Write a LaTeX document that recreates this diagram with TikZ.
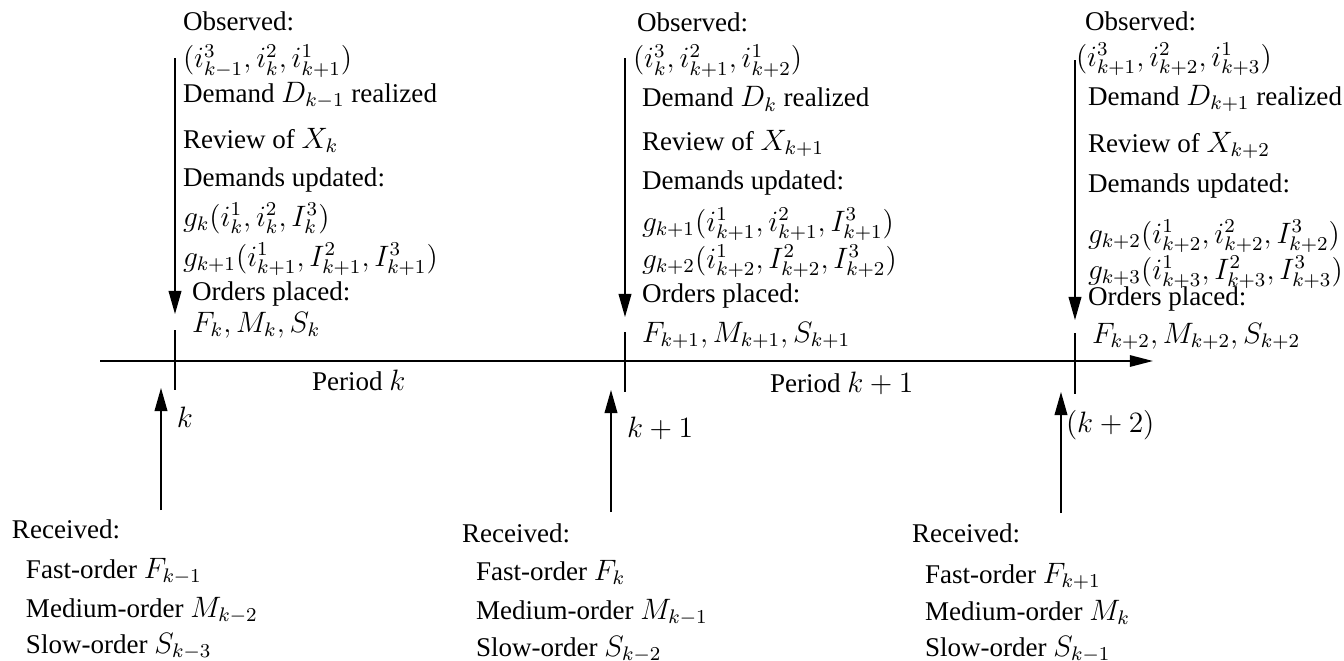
\documentclass[tikz,border=0pt]{standalone}
\usepackage{fontspec}
\setmainfont{Liberation Serif}
\DeclareMathSizes{11}{12}{8}{6}
\usetikzlibrary{arrows.meta}
\begin{document}
\begin{tikzpicture}[x=0.4068pt,y=-0.4068pt,
  lbl/.style={anchor=base west,inner sep=0pt,outer sep=0pt,font=\fontsize{11}{13}\selectfont},
  evarrow/.style={line width=0.55pt,-{Triangle[length=9.4pt,width=5.2pt]}},
  tickmark/.style={line width=0.82pt},
  axisline/.style={line width=0.82pt,-{Triangle[length=9.4pt,width=4.6pt]}}]
\useasboundingbox (0,0) rectangle (1344,661);

% time axis
\coordinate (axL) at (100,361);
\coordinate (axR) at (1153,361);
\draw[axisline] (axL) -- (axR);

% ticks
\coordinate (t1a) at (175,330); \coordinate (t1b) at (175,390);
\coordinate (t2a) at (625,332); \coordinate (t2b) at (625,392);
\coordinate (t3a) at (1075,333); \coordinate (t3b) at (1075,394);
\draw[tickmark] (t1a) -- (t1b);
\draw[tickmark] (t2a) -- (t2b);
\draw[tickmark] (t3a) -- (t3b);

% downward arrows
\coordinate (da1) at (175,58);  \coordinate (db1) at (175,314);
\coordinate (da2) at (625,58);  \coordinate (db2) at (625,317);
\coordinate (da3) at (1075,60); \coordinate (db3) at (1075,320);
\draw[evarrow] (da1) -- (db1);
\draw[evarrow] (da2) -- (db2);
\draw[evarrow] (da3) -- (db3);

% upward arrows
\coordinate (ua1) at (161,510);  \coordinate (ub1) at (161,388);
\coordinate (ua2) at (611,512);  \coordinate (ub2) at (611,390);
\coordinate (ua3) at (1061,513); \coordinate (ub3) at (1061,392);
\draw[evarrow] (ua1) -- (ub1);
\draw[evarrow] (ua2) -- (ub2);
\draw[evarrow] (ua3) -- (ub3);

% axis labels
\node[lbl] (lk1) at (177,427) {$k$};
\node[lbl] (lk2) at (627,437) {$k+1$};
\node[lbl] (lk3) at (1066,432) {$(k+2)$};
\node[lbl] (pk1) at (312,390) {Period $k$};
\node[lbl] (pk2) at (770,392) {Period $k+1$};

% group 1 top
\node[lbl] (o1)  at (183,30)  {Observed:};
\node[lbl] (i1)  at (183,68)  {$(i^3_{k-1}, i^2_k, i^1_{k+1})$};
\node[lbl] (d1)  at (183,102) {Demand $D_{k-1}$ realized};
\node[lbl] (r1)  at (183,148) {Review of $X_k$};
\node[lbl] (u1)  at (183,186) {Demands updated:};
\node[lbl] (ga1) at (183,226) {$g_k(i^1_k, i^2_k, I^3_k)$};
\node[lbl] (gb1) at (183,266) {$g_{k+1}(i^1_{k+1}, I^2_{k+1}, I^3_{k+1})$};
\node[lbl] (p1)  at (192,300) {Orders placed:};
\node[lbl] (f1)  at (192,332) {$F_k, M_k, S_k$};

% group 2 top
\node[lbl] (o2)  at (637,32)  {Observed:};
\node[lbl] (i2)  at (633,68)  {$(i^3_{k}, i^2_{k+1}, i^1_{k+2})$};
\node[lbl] (d2)  at (642,107) {Demand $D_{k}$ realized};
\node[lbl] (r2)  at (642,150) {Review of $X_{k+1}$};
\node[lbl] (u2)  at (642,189) {Demands updated:};
\node[lbl] (ga2) at (642,231) {$g_{k+1}(i^1_{k+1}, i^2_{k+1}, I^3_{k+1})$};
\node[lbl] (gb2) at (642,268) {$g_{k+2}(i^1_{k+2}, I^2_{k+2}, I^3_{k+2})$};
\node[lbl] (p2)  at (642,302) {Orders placed:};
\node[lbl] (f2)  at (642,342) {$F_{k+1}, M_{k+1}, S_{k+1}$};

% group 3 top
\node[lbl] (o3)  at (1085,30)  {Observed:};
\node[lbl] (i3)  at (1076,66)  {$(i^3_{k+1}, i^2_{k+2}, i^1_{k+3})$};
\node[lbl] (d3)  at (1088,105) {Demand $D_{k+1}$ realized};
\node[lbl] (r3)  at (1088,152) {Review of $X_{k+2}$};
\node[lbl] (u3)  at (1088,192) {Demands updated:};
\node[lbl] (ga3) at (1088,243) {$g_{k+2}(i^1_{k+2}, i^2_{k+2}, I^3_{k+2})$};
\node[lbl] (gb3) at (1088,279) {$g_{k+3}(i^1_{k+3}, I^2_{k+3}, I^3_{k+3})$};
\node[lbl] (p3)  at (1088,305) {Orders placed:};
\node[lbl] (f3)  at (1092,343) {$F_{k+2}, M_{k+2}, S_{k+2}$};

% group 1 bottom
\node[lbl] (rc1) at (12,538)  {Received:};
\node[lbl] (fa1) at (26,578)  {Fast-order $F_{k-1}$};
\node[lbl] (me1) at (26,617)  {Medium-order $M_{k-2}$};
\node[lbl] (sl1) at (26,653)  {Slow-order $S_{k-3}$};

% group 2 bottom
\node[lbl] (rc2) at (462,542) {Received:};
\node[lbl] (fa2) at (476,580) {Fast-order $F_{k}$};
\node[lbl] (me2) at (476,619) {Medium-order $M_{k-1}$};
\node[lbl] (sl2) at (476,656) {Slow-order $S_{k-2}$};

% group 3 bottom
\node[lbl] (rc3) at (912,542) {Received:};
\node[lbl] (fa3) at (925,583) {Fast-order $F_{k+1}$};
\node[lbl] (me3) at (925,620) {Medium-order $M_{k}$};
\node[lbl] (sl3) at (925,656) {Slow-order $S_{k-1}$};
\end{tikzpicture}
\end{document}
